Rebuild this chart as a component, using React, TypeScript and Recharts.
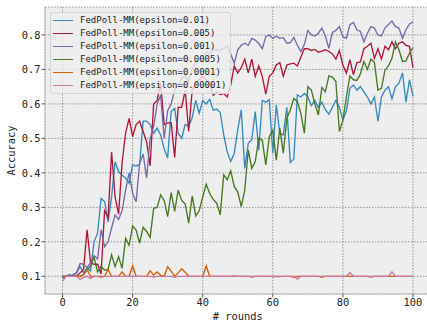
import React from 'react';
import { LineChart, Line, XAxis, YAxis, CartesianGrid, Legend } from 'recharts';

const rounds = [
  0, 1, 2, 3, 4, 5, 6, 7, 8, 9, 10, 11, 12, 13, 14, 15, 16, 17, 18, 19, 20,
  21, 22, 23, 24, 25, 26, 27, 28, 29, 30, 31, 32, 33, 34, 35, 36, 37, 38, 39, 40,
  41, 42, 43, 44, 45, 46, 47, 48, 49, 50, 51, 52, 53, 54, 55, 56, 57, 58, 59, 60,
  61, 62, 63, 64, 65, 66, 67, 68, 69, 70, 71, 72, 73, 74, 75, 76, 77, 78, 79, 80,
  81, 82, 83, 84, 85, 86, 87, 88, 89, 90, 91, 92, 93, 94, 95, 96, 97, 98, 99, 100,
];

const eps0_01 = [
  0.10, 0.10, 0.10, 0.105, 0.11, 0.128, 0.11, 0.125, 0.115, 0.20, 0.225,
  0.326, 0.317, 0.258, 0.33, 0.432, 0.403, 0.393, 0.385, 0.37, 0.423,
  0.42, 0.425, 0.55, 0.55, 0.54, 0.515, 0.53, 0.51, 0.47, 0.443,
  0.578, 0.587, 0.515, 0.50, 0.54, 0.535, 0.56, 0.61, 0.573, 0.61,
  0.60, 0.613, 0.582, 0.585, 0.575, 0.51, 0.46, 0.433, 0.457, 0.525,
  0.583, 0.413, 0.486, 0.496, 0.578, 0.466, 0.61, 0.605, 0.612, 0.457,
  0.597, 0.515, 0.51, 0.59, 0.43, 0.44, 0.626, 0.62, 0.63, 0.62,
  0.595, 0.61, 0.59, 0.605, 0.583, 0.57, 0.59, 0.61, 0.59, 0.553,
  0.58, 0.645, 0.655, 0.64, 0.65, 0.635, 0.62, 0.60, 0.62, 0.549,
  0.62, 0.64, 0.65, 0.615, 0.65, 0.66, 0.69, 0.605, 0.67, 0.622,
];

const eps0_005 = [
  0.10, 0.10, 0.10, 0.10, 0.10, 0.11, 0.12, 0.235, 0.14, 0.135, 0.135,
  0.107, 0.29, 0.27, 0.46, 0.33, 0.28, 0.43, 0.515, 0.558, 0.505,
  0.54, 0.55, 0.52, 0.49, 0.42, 0.60, 0.61, 0.66, 0.54, 0.545,
  0.545, 0.445, 0.59, 0.59, 0.64, 0.52, 0.64, 0.66, 0.67, 0.68,
  0.67, 0.66, 0.625, 0.635, 0.627, 0.63, 0.62, 0.655, 0.71, 0.69,
  0.705, 0.73, 0.69, 0.73, 0.68, 0.71, 0.68, 0.628, 0.68, 0.69,
  0.713, 0.72, 0.68, 0.713, 0.716, 0.718, 0.71, 0.735, 0.76, 0.76,
  0.755, 0.758, 0.75, 0.753, 0.757, 0.752, 0.745, 0.73, 0.755, 0.713,
  0.689, 0.728, 0.684, 0.72, 0.722, 0.76, 0.767, 0.776, 0.732, 0.76,
  0.73, 0.767, 0.757, 0.78, 0.76, 0.776, 0.78, 0.77, 0.767, 0.705,
];

const eps0_001 = [
  0.093, 0.10, 0.105, 0.10, 0.11, 0.137, 0.135, 0.125, 0.14, 0.16, 0.15,
  0.235, 0.186, 0.20, 0.24, 0.278, 0.265, 0.29, 0.35, 0.40, 0.341,
  0.316, 0.428, 0.455, 0.385, 0.50, 0.534, 0.60, 0.626, 0.50, 0.58,
  0.60, 0.64, 0.655, 0.675, 0.68, 0.665, 0.70, 0.72, 0.73, 0.735,
  0.75, 0.745, 0.76, 0.755, 0.757, 0.76, 0.77, 0.745, 0.718, 0.757,
  0.77, 0.776, 0.77, 0.79, 0.785, 0.775, 0.76, 0.795, 0.80, 0.79,
  0.797, 0.79, 0.792, 0.776, 0.778, 0.793, 0.77, 0.752, 0.772, 0.813,
  0.80, 0.797, 0.805, 0.82, 0.797, 0.761, 0.807, 0.813, 0.824, 0.795,
  0.79, 0.83, 0.836, 0.815, 0.81, 0.78, 0.805, 0.824, 0.82, 0.80,
  0.797, 0.82, 0.83, 0.84, 0.824, 0.82, 0.79, 0.815, 0.832, 0.838,
];

const eps0_0005 = [
  0.10, 0.10, 0.10, 0.10, 0.10, 0.10, 0.105, 0.118, 0.13, 0.155, 0.113,
  0.128, 0.118, 0.12, 0.162, 0.128, 0.157, 0.123, 0.21, 0.19, 0.246,
  0.234, 0.196, 0.242, 0.23, 0.213, 0.297, 0.30, 0.336, 0.32, 0.273,
  0.343, 0.288, 0.35, 0.32, 0.31, 0.254, 0.333, 0.275, 0.29, 0.33,
  0.367, 0.34, 0.323, 0.312, 0.278, 0.394, 0.38, 0.406, 0.36, 0.345,
  0.302, 0.35, 0.467, 0.413, 0.433, 0.50, 0.495, 0.423, 0.505, 0.524,
  0.437, 0.53, 0.457, 0.558, 0.583, 0.616, 0.607, 0.573, 0.515, 0.65,
  0.64, 0.60, 0.568, 0.648, 0.635, 0.681, 0.678, 0.665, 0.52, 0.553,
  0.62, 0.681, 0.67, 0.668, 0.687, 0.723, 0.70, 0.73, 0.72, 0.64,
  0.645, 0.697, 0.71, 0.732, 0.78, 0.757, 0.723, 0.725, 0.747, 0.763,
];

const eps0_0001 = [
  0.097, 0.10, 0.10, 0.10, 0.10, 0.10, 0.105, 0.12, 0.10, 0.10, 0.10,
  0.10, 0.10, 0.12, 0.10, 0.10, 0.10, 0.113, 0.10, 0.10, 0.13,
  0.10, 0.10, 0.10, 0.10, 0.116, 0.104, 0.113, 0.103, 0.10, 0.128,
  0.115, 0.10, 0.11, 0.122, 0.112, 0.10, 0.10, 0.10, 0.10, 0.10,
  0.13, 0.10, 0.10, 0.10, 0.10, 0.10, 0.10, 0.10, 0.101, 0.10,
  0.10, 0.10, 0.10, 0.098, 0.10, 0.10, 0.10, 0.10, 0.10, 0.099,
  0.10, 0.099, 0.10, 0.10, 0.10, 0.097, 0.10, 0.10, 0.10, 0.10,
  0.10, 0.10, 0.10, 0.097, 0.10, 0.10, 0.10, 0.10, 0.10, 0.10,
  0.10, 0.10, 0.10, 0.10, 0.10, 0.10, 0.10, 0.098, 0.10, 0.10,
  0.10, 0.10, 0.10, 0.10, 0.10, 0.10, 0.10, 0.10, 0.10, 0.10,
];

const eps0_00001 = [
  0.085, 0.10, 0.10, 0.10, 0.10, 0.091, 0.097, 0.10, 0.094, 0.10, 0.10,
  0.097, 0.10, 0.10, 0.10, 0.10, 0.10, 0.10, 0.10, 0.10, 0.10,
  0.10, 0.10, 0.10, 0.10, 0.10, 0.098, 0.10, 0.10, 0.10, 0.10,
  0.10, 0.097, 0.10, 0.10, 0.10, 0.10, 0.10, 0.10, 0.10, 0.10,
  0.10, 0.10, 0.10, 0.10, 0.10, 0.10, 0.10, 0.10, 0.10, 0.10,
  0.10, 0.10, 0.10, 0.10, 0.10, 0.10, 0.10, 0.10, 0.10, 0.10,
  0.10, 0.10, 0.10, 0.10, 0.10, 0.10, 0.092, 0.10, 0.10, 0.10,
  0.10, 0.10, 0.10, 0.10, 0.10, 0.10, 0.10, 0.10, 0.10, 0.10,
  0.10, 0.111, 0.10, 0.10, 0.10, 0.10, 0.10, 0.10, 0.10, 0.10,
  0.10, 0.10, 0.10, 0.113, 0.10, 0.10, 0.10, 0.10, 0.10, 0.10,
];

const seriesNames = [
  'FedPoll-MM(epsilon=0.01)',
  'FedPoll-MM(epsilon=0.005)',
  'FedPoll-MM(epsilon=0.001)',
  'FedPoll-MM(epsilon=0.0005)',
  'FedPoll-MM(epsilon=0.0001)',
  'FedPoll-MM(epsilon=0.00001)',
];
const seriesColors = ['#348ABD', '#B0163A', '#7A68A6', '#467821', '#D55E00', '#CC79A7'];
const seriesValues = [eps0_01, eps0_005, eps0_001, eps0_0005, eps0_0001, eps0_00001];

const xTicks = [0, 20, 40, 60, 80, 100];
const yTicks = [0.1, 0.2, 0.3, 0.4, 0.5, 0.6, 0.7, 0.8];

const FONT = '"DejaVu Sans Mono", monospace';

const data = rounds.map((r, i) => {
  const row: Record<string, number> = { round: r };
  seriesValues.forEach((arr, k) => {
    row['s' + k] = arr[i];
  });
  return row;
});

const renderLegend = () => (
  <div
    style={{
      background: 'rgba(238,238,238,0.8)',
      border: '1px solid #d4d4d4',
      borderRadius: 3,
      padding: '1px 4px 1px 2px',
      fontFamily: FONT,
      fontSize: 9,
      color: '#222',
      boxSizing: 'border-box',
    }}
  >
    {seriesNames.map((n, k) => (
      <div key={n} style={{ display: 'flex', alignItems: 'center', height: 13, lineHeight: '13px', whiteSpace: 'nowrap' }}>
        <span style={{ display: 'inline-block', width: 20, height: 0, borderTop: `1.5px solid ${seriesColors[k]}`, marginRight: 7 }} />
        <span>{n}</span>
      </div>
    ))}
  </div>
);

export default function App() {
  return (
    <div style={{ position: 'absolute', left: 0, top: 0, width: 427, height: 328, overflow: 'hidden', background: '#fff' }}>
      <LineChart width={431} height={328} data={data} margin={{ top: 7, right: 0.5, bottom: 0, left: 0 }}>
        <CartesianGrid fill="#eeeeee" stroke="#8a8a8a" strokeDasharray="1.5 1.5" strokeWidth={0.9} />
        <XAxis
          dataKey="round"
          type="number"
          domain={[-5, 105]}
          ticks={xTicks}
          allowDataOverflow
          height={34}
          tickSize={3.5}
          tickMargin={1.5}
          axisLine={{ stroke: '#bcbcbc' }}
          tickLine={{ stroke: '#555' }}
          tick={{ fill: '#222', fontSize: 10.4, fontFamily: FONT }}
          label={{ value: '# rounds', position: 'insideBottom', offset: 8, fill: '#222', fontSize: 10.4, fontFamily: FONT }}
        />
        <XAxis
          xAxisId="top"
          orientation="top"
          dataKey="round"
          type="number"
          domain={[-5, 105]}
          height={0}
          tick={false}
          tickLine={false}
          axisLine={{ stroke: '#bcbcbc' }}
        />
        <YAxis
          type="number"
          domain={[0.0487, 0.881]}
          ticks={yTicks}
          allowDataOverflow
          width={45}
          tickSize={3.5}
          tickMargin={1}
          axisLine={{ stroke: '#bcbcbc' }}
          tickLine={{ stroke: '#555' }}
          tickFormatter={(v: number) => v.toFixed(1)}
          tick={{ fill: '#222', fontSize: 10.4, fontFamily: FONT }}
          label={{ value: 'Accuracy', angle: -90, position: 'insideLeft', offset: 11, fill: '#222', fontSize: 10.4, fontFamily: FONT, style: { textAnchor: 'middle' } }}
        />
        <Legend
          layout="vertical"
          align="center"
          verticalAlign="middle"
          content={renderLegend}
          wrapperStyle={{ position: 'absolute', left: 50, top: 12, width: 'auto', height: 'auto' }}
        />
        {seriesNames.map((n, k) => (
          <Line
            key={n}
            type="linear"
            dataKey={'s' + k}
            name={n}
            stroke={seriesColors[k]}
            strokeWidth={1.35}
            dot={false}
            activeDot={false}
            isAnimationActive={false}
          />
        ))}
      </LineChart>
    </div>
  );
}
